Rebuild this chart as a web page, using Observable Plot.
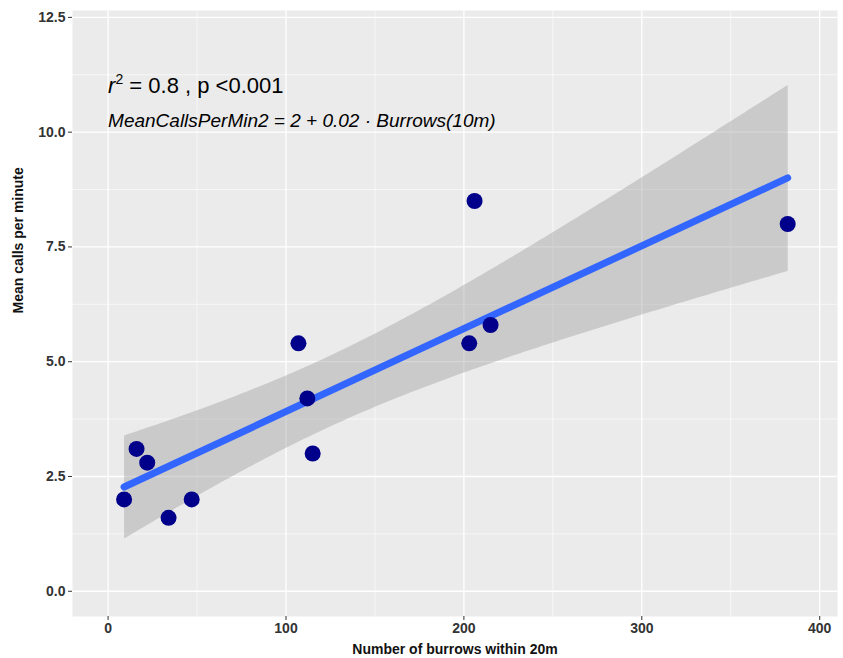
<!DOCTYPE html>
<html>
<head>
<meta charset="utf-8">
<script src="https://cdn.jsdelivr.net/npm/d3@7"></script>
<script src="https://cdn.jsdelivr.net/npm/@observablehq/plot@0.6"></script>
<style>
  html, body { margin: 0; padding: 0; background: #fff; }
  #chart { width: 843px; height: 658px; }
</style>
</head>
<body>
<div id="chart"></div>
<script>
// Data
const burrows = [9, 16, 22, 34, 47, 107, 112, 115, 203, 206, 215, 382];
const calls   = [2.0, 3.1, 2.8, 1.6, 2.0, 5.4, 4.2, 3.0, 5.4, 8.5, 5.8, 8.0];

const xTicks = [0, 100, 200, 300, 400];
const xMinor = [50, 150, 250, 350];
const yTicks = [0, 2.5, 5, 7.5, 10, 12.5];
const yMinor = [1.25, 3.75, 6.25, 8.75, 11.25];

const statLabel = "r2 = 0.8 , p <0.001";
const eqLabel = "MeanCallsPerMin2 = 2 + 0.02 \u00B7 Burrows(10m)";
const xTitle = "Number of burrows within 20m";
const yTitle = "Mean calls per minute";

const data = burrows.map((b, i) => ({burrows: b, calls: calls[i]}));

const font = "'Liberation Sans Narrow', 'Liberation Sans', Arial, sans-serif";
const annFont = "'Liberation Sans', Arial, sans-serif";

const chart = Plot.plot({
  width: 843,
  height: 658,
  marginLeft: 72,
  marginRight: 6,
  marginTop: 10,
  marginBottom: 42,
  style: {fontFamily: font, background: "#fff"},
  x: {domain: [-20, 410]},
  y: {domain: [-0.55, 12.65]},
  marks: [
    Plot.frame({fill: "#EBEBEB", stroke: null}),
    Plot.gridX(xMinor, {stroke: "#fff", strokeOpacity: 1, strokeWidth: 0.6}),
    Plot.gridY(yMinor, {stroke: "#fff", strokeOpacity: 1, strokeWidth: 0.6}),
    Plot.gridX(xTicks, {stroke: "#fff", strokeOpacity: 1, strokeWidth: 1.3}),
    Plot.gridY(yTicks, {stroke: "#fff", strokeOpacity: 1, strokeWidth: 1.3}),
    Plot.axisX({ticks: xTicks, tickFormat: d3.format("d"), tickSize: 4, tickPadding: 3,
      fontSize: 14, fontWeight: "bold", color: "#333", stroke: "#333",
      label: null}),
    Plot.axisY({ticks: yTicks, tickFormat: d3.format(".1f"), tickSize: 4, tickPadding: 3,
      fontSize: 14, fontWeight: "bold", color: "#333", stroke: "#333",
      label: null}),
    Plot.linearRegressionY(data, {x: "burrows", y: "calls", ci: 0.95,
      stroke: "#3366FF", strokeWidth: 7, fill: "#999999", fillOpacity: 0.4}),
    Plot.dot(data, {x: "burrows", y: "calls", r: 8, fill: "#00008B", stroke: null}),
    Plot.text([statLabel], {x: 0, y: 11.0, text: d => d, textAnchor: "start",
      fontSize: 22, fill: "#000", fontFamily: annFont, className: "statlabel"}),
    Plot.text([eqLabel], {x: 0, y: 10.24, text: d => d, textAnchor: "start",
      fontSize: 19, fontStyle: "italic", fill: "#000", fontFamily: annFont}),
    Plot.text([xTitle], {frameAnchor: "bottom", dy: 37, text: d => d,
      fontSize: 14, fontWeight: "bold", fill: "#111"}),
    Plot.text([yTitle], {frameAnchor: "left", dx: -54, rotate: -90, text: d => d,
      fontSize: 14, fontWeight: "bold", fill: "#111"})
  ]
});
document.getElementById("chart").appendChild(chart);

// Render the r² label with italic r and superscript 2
d3.select(chart).selectAll("text").each(function() {
  if (this.textContent === statLabel) {
    const t = d3.select(this);
    t.text(null);
    t.append("tspan").attr("font-style", "italic").text("r");
    t.append("tspan").attr("dy", -9).attr("font-size", 14).text("2");
    t.append("tspan").attr("dy", 9).text(" = 0.8 , p <0.001");
  }
});
</script>
</body>
</html>
